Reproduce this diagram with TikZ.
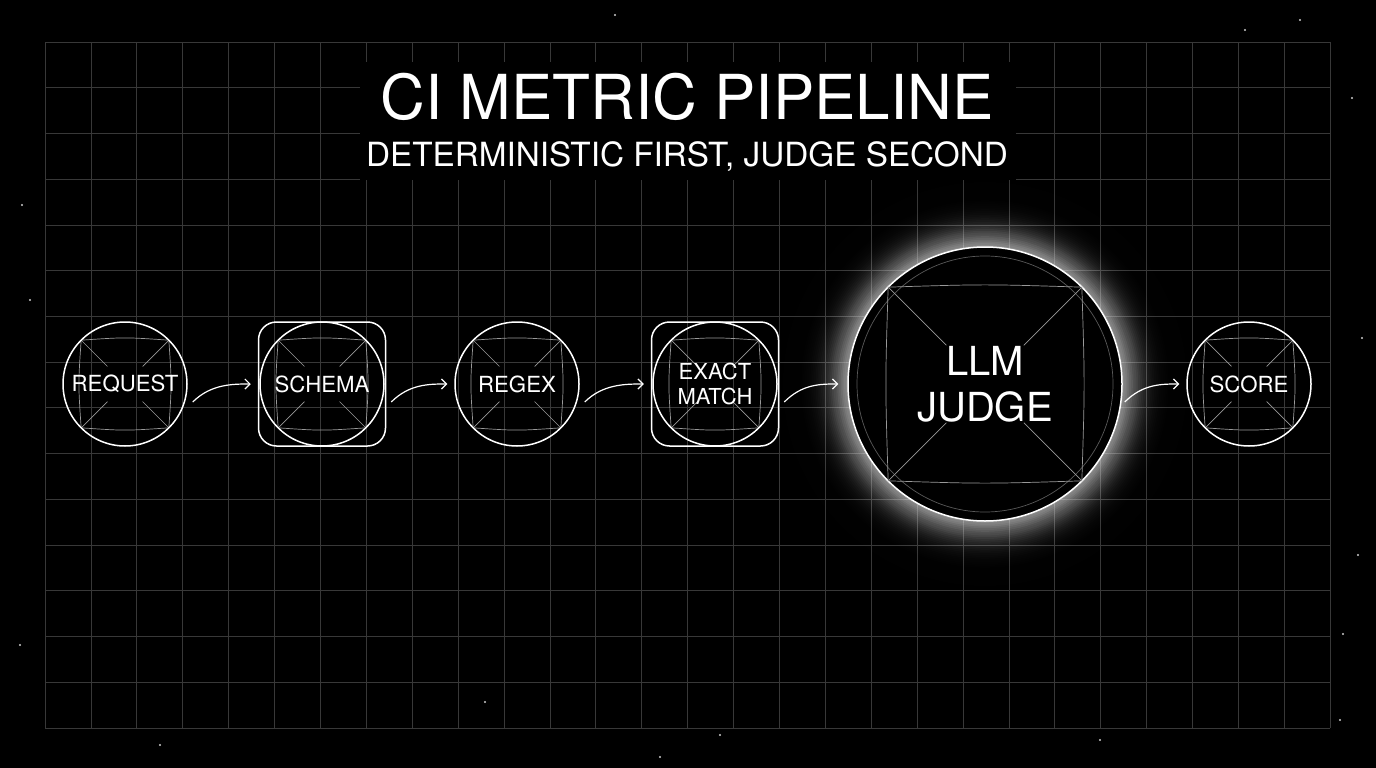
\documentclass[tikz,border=0pt]{standalone}
\usepackage{fontspec}
\setmainfont{TeX Gyre Heros}
\usetikzlibrary{arrows.meta}
\begin{document}
\begin{tikzpicture}[x=1pt,y=-1pt,
  gridln/.style={draw=white!22!black,line width=0.8pt},
  rim/.style={draw=white,line width=1.5pt},
  inner/.style={draw=white!60!black,line width=0.7pt},
  lbl/.style={text=white,font=\fontsize{22.2}{23}\selectfont,align=center},
  conn/.style={draw=white,line width=1.2pt,-{Straight Barb[length=5pt,width=10pt]}},
  star/.style={fill=white!80!black}]
\fill[black] (0,0) rectangle (1376,768);
\useasboundingbox (0,0) rectangle (1376,768);
% grid
\foreach \i in {0,...,28} {\draw[gridln] (45+\i*45.9,42) -- (45+\i*45.9,728);}
\foreach \j in {0,...,15} {\draw[gridln] (45,42+\j*45.73) -- (1330,42+\j*45.73);}
% stars
\foreach \p in {(615,15),(1300,20),(1352,98),(22,205),(30,300),(1362,338),(1358,555),(1343,634),(20,645),(1340,720),(485,702),(160,745),(720,735),(1100,740),(1245,30),(660,757)}
  {\fill[star] \p circle (1.1);}
% title
\fill[black] (360,62) rectangle (1016,180);
\node[text=white,font=\fontsize{62}{62}\selectfont] (title) at (687,97) {CI METRIC PIPELINE};
\node[text=white,font=\fontsize{33.3}{34}\selectfont] (sub) at (687,157) {DETERMINISTIC FIRST, JUDGE SECOND};
% glow
\foreach \k in {0,...,40} {
  \pgfmathsetmacro{\r}{137+\k*1.8}
  \pgfmathsetmacro{\o}{0.11*exp(-\k/9)}
  \fill[white,opacity=\o] (985,384) circle (\r);}
% node decoration macro
\newcommand{\xsq}[3]{%
  \pgfmathsetmacro{\h}{#3*0.707}%
  \draw[inner] (#1-\h,#2-\h) .. controls (#1,#2-\h-3) .. (#1+\h,#2-\h)
     .. controls (#1+\h+3,#2) .. (#1+\h,#2+\h)
     .. controls (#1,#2+\h+3) .. (#1-\h,#2+\h)
     .. controls (#1-\h-3,#2) .. cycle;
  \draw[inner] (#1-\h,#2-\h) -- (#1-0.4*\h,#2-0.4*\h);
  \draw[inner] (#1+\h,#2-\h) -- (#1+0.4*\h,#2-0.4*\h);
  \draw[inner] (#1-\h,#2+\h) -- (#1-0.4*\h,#2+0.4*\h);
  \draw[inner] (#1+\h,#2+\h) -- (#1+0.4*\h,#2+0.4*\h);}
% REQUEST
\xsq{125}{384}{62}
\node[circle,rim,minimum size=124pt,inner sep=0] (req) at (125,384) {};
\node[lbl] at (req) {REQUEST};
% SCHEMA
\xsq{322}{384}{62}
\node[rounded corners=18pt,rim,minimum width=127pt,minimum height=124pt] (sch) at (322,384) {};
\draw[rim] (322,384) circle (62);
\node[lbl] at (sch) {SCHEMA};
% REGEX
\xsq{517}{384}{62}
\node[circle,rim,minimum size=124pt,inner sep=0] (reg) at (517,384) {};
\node[lbl] at (reg) {REGEX};
% EXACT MATCH
\xsq{715}{384}{62}
\node[rounded corners=18pt,rim,minimum width=127pt,minimum height=124pt] (exm) at (715,384) {};
\draw[rim] (715,384) circle (62);
\node[lbl,font=\fontsize{22}{25}\selectfont] at (exm) {EXACT\\MATCH};
% LLM JUDGE
\node[circle,rim,fill=black,minimum size=274pt,inner sep=0] (llm) at (985,384) {};
\draw[white!35!black,line width=0.7pt] (985,384) circle (128);
\xsq{985}{384}{137}
\node[text=white,font=\fontsize{40}{46}\selectfont,align=center] at (llm) {LLM\\JUDGE};
% SCORE
\xsq{1249}{384}{62}
\node[circle,rim,minimum size=124pt,inner sep=0] (sco) at (1249,384) {};
\node[lbl] at (sco) {SCORE};
% connectors
\draw[conn] ([xshift=5pt,yshift=-18pt]req.east) .. controls +(18,-18) and +(-18,0) .. ([xshift=-7pt]sch.west);
\draw[conn] ([xshift=5pt,yshift=-18pt]sch.east) .. controls +(18,-18) and +(-18,0) .. ([xshift=-7pt]reg.west);
\draw[conn] ([xshift=5pt,yshift=-18pt]reg.east) .. controls +(18,-18) and +(-18,0) .. ([xshift=-7pt]exm.west);
\draw[conn] ([xshift=5pt,yshift=-18pt]exm.east) .. controls +(18,-18) and +(-18,0) .. ([xshift=-9pt]llm.west);
\draw[conn] ([xshift=2pt,yshift=-18pt]llm.east) .. controls +(18,-18) and +(-18,0) .. ([xshift=-7pt]sco.west);
\end{tikzpicture}
\end{document}
